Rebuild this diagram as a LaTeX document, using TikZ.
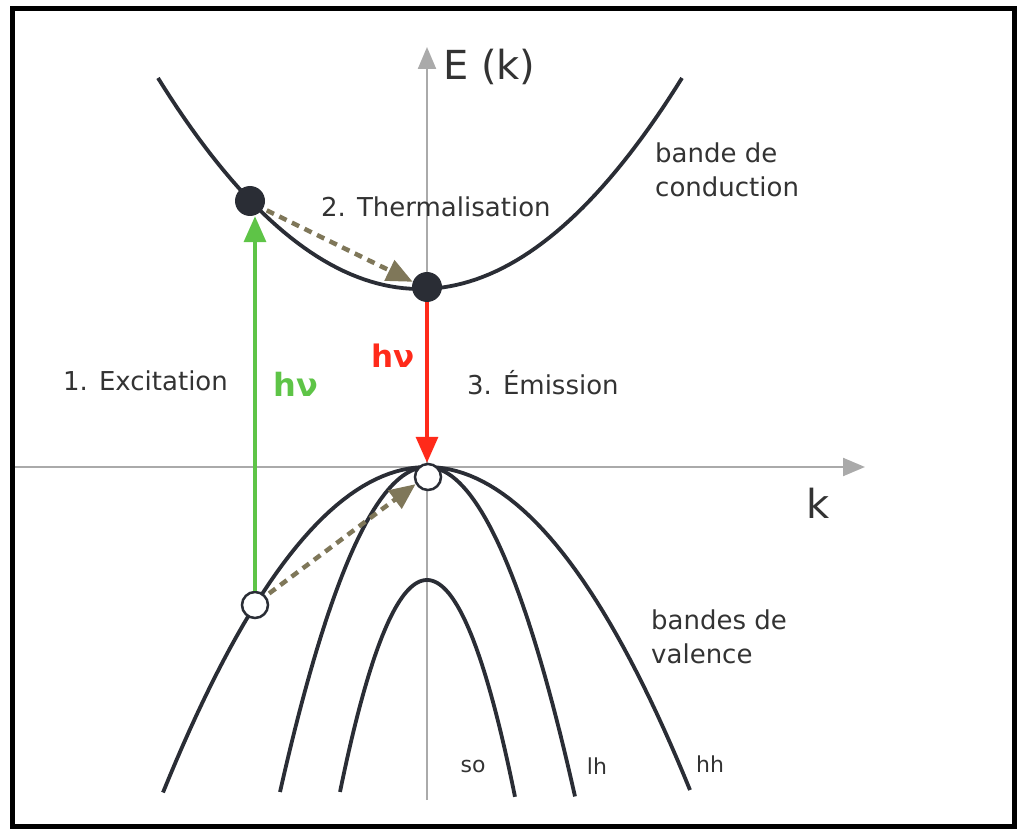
\documentclass[tikz,border=0pt]{standalone}
\usepackage{fontspec}
\setmainfont{DejaVu Sans}
\usetikzlibrary{arrows.meta}
\definecolor{bandcol}{HTML}{2A2D35}
\definecolor{axiscol}{HTML}{AAAAAA}
\definecolor{textcol}{HTML}{333333}
\definecolor{excol}{HTML}{5EC447}
\definecolor{emcol}{HTML}{FF2A1A}
\definecolor{thcol}{HTML}{7F7759}
\tikzset{
  band/.style={bandcol, line width=3.8pt},
  axis/.style={axiscol, line width=2.2pt, -{Triangle[length=22pt,width=18pt]}},
  electron/.style={circle, fill=bandcol, minimum size=30pt, inner sep=0pt},
  hole/.style={circle, draw=bandcol, line width=2.5pt, fill=white, minimum size=26pt, inner sep=0pt},
  photon/.style={line width=3.5pt, -{Triangle[length=26pt,width=22pt]}},
  relax/.style={thcol, line width=4.5pt, dash pattern=on 8pt off 6pt, -{Triangle[length=26pt,width=22pt]}},
  lbl/.style={text=textcol, font=\fontsize{26}{34}\selectfont, inner sep=0pt},
  small/.style={text=textcol, font=\fontsize{22}{26}\selectfont, inner sep=0pt}
}
\begin{document}
\begin{tikzpicture}[x=1pt,y=-1pt]
  \useasboundingbox (0,0) rectangle (1018,829);
  \draw[black, line width=5pt] (12,9) rectangle (1014,826);
  % axes
  \coordinate (ybot) at (427,800);
  \coordinate (ytop) at (427,47);
  \coordinate (xleft) at (15,467);
  \coordinate (xright) at (865,467);
  \draw[axis] (ybot) -- (ytop);
  \draw[axis] (xleft) -- (xright);
  \node[lbl, anchor=west, font=\fontsize{40}{44}\selectfont] (Ek) at (443,67) {E (k)};
  \node[lbl, font=\fontsize{40}{44}\selectfont] (k) at (818,503) {k};
  % bands
  \draw[band] plot[domain=158:682, samples=80] (\x, {289-30.74*((\x-420)/100)^2});
  \draw[band] plot[domain=163:690, samples=80] (\x, {467+46.7*((\x-427)/100)^2});
  \draw[band] plot[domain=280:575, samples=80] (\x, {467+150.4*((\x-427)/100)^2});
  \draw[band] plot[domain=340:515, samples=80] (\x, {580+280*((\x-427)/100)^2});
  % carriers
  \node[electron] (e1) at (250,201) {};
  \node[electron] (e2) at (427,287) {};
  \node[hole] (h1) at (255,605) {};
  \node[hole] (h2) at (428,477) {};
  % transitions
  \draw[photon, excol] (h1.north) -- (h1.north |- e1.south);
  \draw[photon, emcol] (e2.south) -- (e2.south |- h2.north);
  \draw[relax, shorten <=4pt] (e1.-30) -- (e2.160);
  \draw[relax, shorten <=4pt] (h1.40) -- (h2.210);
  % labels
  \node[lbl, anchor=west] (exc) at (63,381) {1. Excitation};
  \node[lbl, anchor=west] (therm) at (321,207) {2. Thermalisation};
  \node[lbl, anchor=west] (emi) at (467,383) {3. Émission};
  \node[lbl, anchor=west, align=left] (bc) at (655,170) {bande de\\conduction};
  \node[lbl, anchor=west, align=left] (bv) at (651,637) {bandes de\\valence};
  \node[text=excol, font=\fontsize{32}{36}\selectfont\bfseries, inner sep=0pt] (hvex) at (296,384) {hν};
  \node[text=emcol, font=\fontsize{31}{36}\selectfont\bfseries, inner sep=0pt] (hvem) at (393,356) {hν};
  \node[small] (so) at (473,766) {so};
  \node[small] (lh) at (597,766) {lh};
  \node[small] (hh) at (710,764) {hh};
\end{tikzpicture}
\end{document}
